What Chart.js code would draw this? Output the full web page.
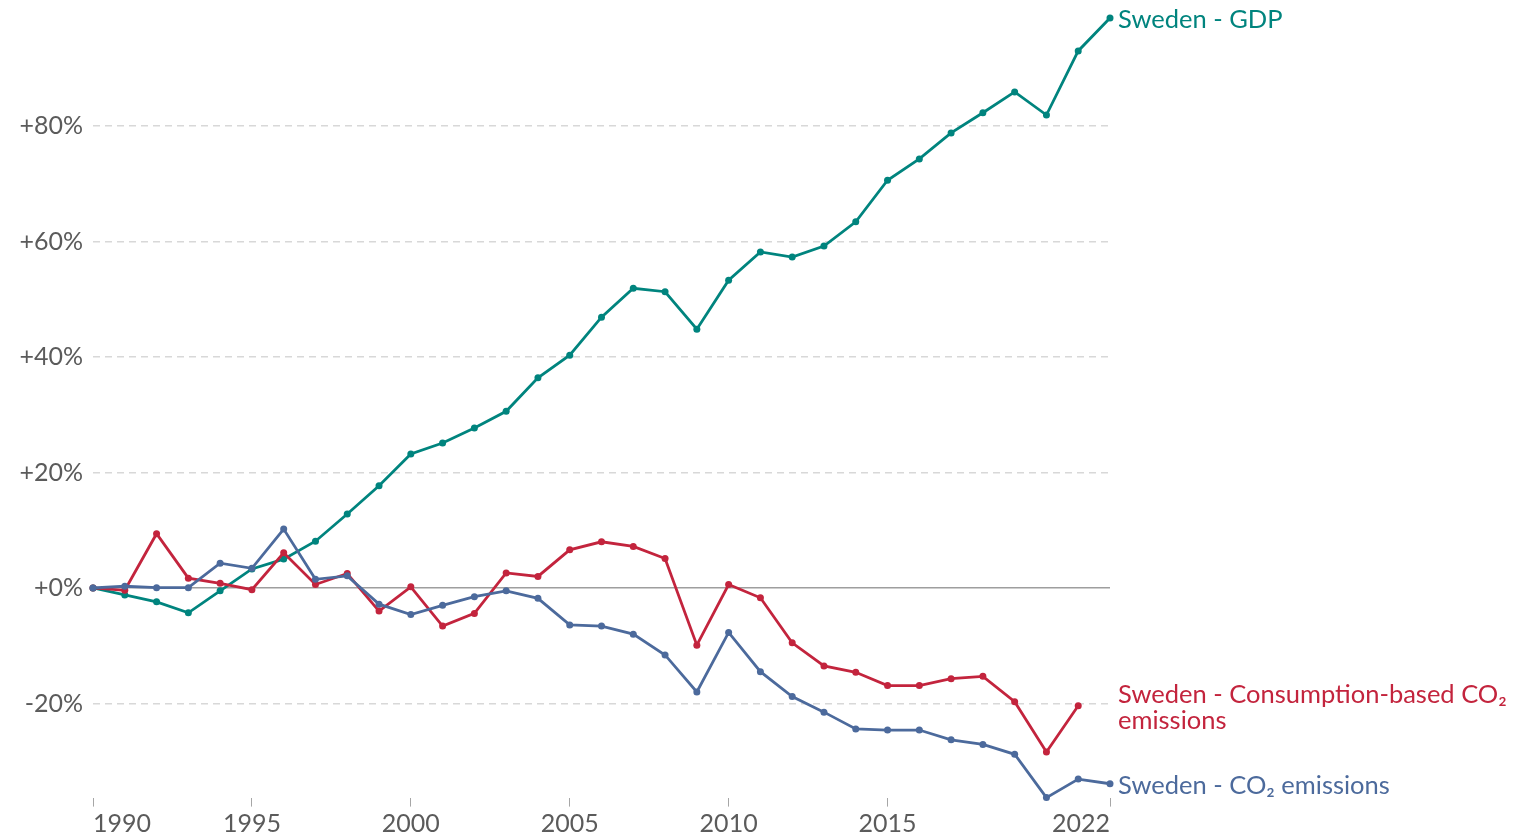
<!DOCTYPE html>
<html>
<head>
<meta charset="utf-8">
<title>Sweden - GDP and CO2 emissions</title>
<script src="https://cdn.jsdelivr.net/npm/chart.js@4.4.0/dist/chart.umd.min.js"></script>
<style>
  body { margin: 0; background: #fff; }
  #wrap { width: 1537px; height: 837px; }
</style>
</head>
<body>
<div id="wrap"><canvas id="swedenChart" width="1537" height="837"></canvas></div>
<script>
// data, % change since 1990
let years = [];
for (let y = 1990; y <= 2022; y++) years.push(y);

let gdp = [0, -1.2, -2.4, -4.3, -0.5, 3.3, 5.0, 8.1, 12.8, 17.7, 23.2, 25.1, 27.7, 30.6, 36.4, 40.3,
  46.9, 51.9, 51.3, 44.8, 53.3, 58.2, 57.3, 59.2, 63.4, 70.6, 74.3, 78.8, 82.3, 85.9, 81.9, 93.0, 98.7];

// consumption based stops at 2021
let consCO2 = [0, -0.4, 9.4, 1.7, 0.8, -0.3, 6.1, 0.6, 2.5, -4.0, 0.2, -6.6, -4.4, 2.6, 2.0, 6.6,
  8.0, 7.2, 5.1, -9.9, 0.6, -1.7, -9.5, -13.5, -14.6, -16.9, -16.9, -15.7, -15.3, -19.7, -28.4, -20.4];

let co2 = [0, 0.3, 0.05, 0.05, 4.3, 3.4, 10.2, 1.5, 2.1, -2.8, -4.6, -3.0, -1.5, -0.5, -1.8, -6.4,
  -6.6, -8.0, -11.6, -18.0, -7.7, -14.5, -18.8, -21.5, -24.4, -24.6, -24.6, -26.3, -27.1, -28.8, -36.3, -33.1, -33.9];

let yearTicks = [1990, 1995, 2000, 2005, 2010, 2015, 2022];
let pctTicks = [-20, 0, 20, 40, 60, 80];

let seriesNames = ['Sweden - GDP', 'Sweden - Consumption-based CO\u2082 emissions', 'Sweden - CO\u2082 emissions'];
let endLabels = [['Sweden - GDP'], ['Sweden - Consumption-based CO\u2082', 'emissions'], ['Sweden - CO\u2082 emissions']];
let colors = ['#00847e', '#c3243d', '#4c6a9c'];

function toPoints(vals) {
  return vals.map((v, i) => ({ x: years[i], y: v }));
}

// labels at the end of every line
const endLabelPlugin = {
  id: 'endLabels',
  afterDatasetsDraw(chart) {
    const ctx = chart.ctx;
    const xs = chart.scales.x, ys = chart.scales.y;
    ctx.save();
    ctx.font = '25.5px Lato';
    ctx.textAlign = 'left';
    ctx.textBaseline = 'middle';
    chart.data.datasets.forEach((ds, i) => {
      const last = ds.data[ds.data.length - 1];
      const lines = endLabels[i];
      const px = xs.getPixelForValue(2022) + 8;
      const py = ys.getPixelForValue(last.y);
      ctx.fillStyle = colors[i];
      lines.forEach((t, j) => {
        ctx.fillText(t, px, py + (j - (lines.length - 1) / 2) * 26 + 2);
      });
    });
    ctx.restore();
  }
};

let datasets = [gdp, consCO2, co2].map((vals, i) => ({
  label: seriesNames[i],
  data: toPoints(vals),
  borderColor: colors[i],
  backgroundColor: colors[i],
  borderWidth: 2.8,
  pointRadius: 3.5,
  pointHoverRadius: 3.5,
  pointBorderWidth: 0,
  tension: 0,
  clip: false
}));
// draw order: blue under red under teal like the picture
datasets.reverse();
endLabels.reverse();
colors.reverse();

new Chart(document.getElementById('swedenChart').getContext('2d'), {
  type: 'line',
  data: { datasets: datasets },
  options: {
    responsive: false,
    animation: false,
    events: [],
    layout: { padding: { left: 0, right: 427, top: 18, bottom: 0 } },
    plugins: { legend: { display: false }, tooltip: { enabled: false } },
    scales: {
      x: {
        type: 'linear',
        min: 1990,
        max: 2022,
        afterBuildTicks: (s) => { s.ticks = yearTicks.map(v => ({ value: v })); },
        afterFit: (s) => { s.height = 39.4; s.paddingLeft = 0; s.paddingRight = 0; },
        border: { display: false },
        grid: { drawOnChartArea: false, drawTicks: true, tickLength: 9, color: '#a6a6a6', lineWidth: 1 },
        ticks: {
          align: 'inner',
          padding: 2,
          color: '#5b5b5b',
          font: { family: 'Lato', size: 25 },
          maxRotation: 0,
          callback: (v) => String(v)
        }
      },
      y: {
        min: -36.3,
        max: 98.7,
        afterBuildTicks: (s) => { s.ticks = pctTicks.map(v => ({ value: v })); },
        afterFit: (s) => { s.width = 93; s.paddingTop = 0; s.paddingBottom = 0; },
        border: {
          display: false,
          dash: (c) => (c.tick && c.tick.value === 0) ? [] : [7, 5]
        },
        grid: {
          drawTicks: false,
          color: (c) => (c.tick && c.tick.value === 0) ? '#9e9e9e' : '#d8d8d8',
          lineWidth: (c) => (c.tick && c.tick.value === 0) ? 1.5 : 1.4
        },
        ticks: {
          padding: 10,
          color: '#5b5b5b',
          font: { family: 'Lato', size: 25 },
          callback: (v) => (v >= 0 ? '+' : '') + v + '%'
        }
      }
    }
  },
  plugins: [endLabelPlugin]
});
</script>
</body>
</html>
